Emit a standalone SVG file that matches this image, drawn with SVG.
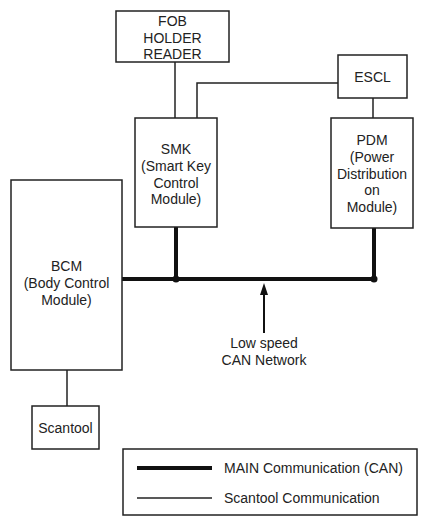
<svg xmlns="http://www.w3.org/2000/svg" width="427" height="526" viewBox="0 0 427 526">
<style>
.box{fill:#fff;stroke:#222;stroke-width:1.5}
.thin{fill:none;stroke:#222;stroke-width:1.5}
.thick{fill:none;stroke:#111;stroke-width:4}
text{font-family:"Liberation Sans",Arial,sans-serif;font-size:14px;fill:#222;text-anchor:middle}
.lg{text-anchor:start}
</style>
<defs>
<marker id="ah" markerWidth="8" markerHeight="12" refX="4" refY="1" orient="auto-start-reverse" markerUnits="userSpaceOnUse" viewBox="0 0 8 12">
<path d="M0,12 L4,0 L8,12 Z" fill="#111"/>
</marker>
</defs>
<g id="connectors">
<path class="thin" d="M175,62 V118"/>
<path class="thin" d="M197,118 V83 H338"/>
<path class="thin" d="M373,98 V118"/>
<path class="thin" d="M67,370 V406"/>
<path class="thick" d="M122,279 H375"/>
<path class="thick" d="M176,227 V279"/>
<path class="thick" d="M374,228 V279"/>
<circle cx="176" cy="279" r="3.5" fill="#111"/>
<circle cx="374" cy="279" r="3.5" fill="#111"/>
<path d="M264,333 V294" stroke="#111" stroke-width="2" fill="none"/>
<path d="M260,295 L264,283 L268,295 Z" fill="#111"/>
</g>
<g id="fob">
<rect class="box" x="116" y="11" width="113" height="51"/>
<text x="172.5" y="25.5">FOB</text>
<text x="172.5" y="42.5">HOLDER</text>
<text x="172.5" y="59">READER</text>
</g>
<g id="escl">
<rect class="box" x="338" y="55" width="69" height="43"/>
<text x="372.5" y="82">ESCL</text>
</g>
<g id="smk">
<rect class="box" x="135" y="118" width="82" height="109"/>
<text x="176" y="154">SMK</text>
<text x="176" y="171">(Smart Key</text>
<text x="176" y="187.5">Control</text>
<text x="176" y="204">Module)</text>
</g>
<g id="pdm">
<rect class="box" x="331" y="118" width="82" height="110"/>
<text x="372" y="145">PDM</text>
<text x="372" y="162">(Power</text>
<text x="372" y="178.5">Distribution</text>
<text x="372" y="195">on</text>
<text x="372" y="212">Module)</text>
</g>
<g id="bcm">
<rect class="box" x="11" y="180" width="111" height="190"/>
<text x="66.5" y="271">BCM</text>
<text x="66.5" y="288">(Body Control</text>
<text x="66.5" y="304.5">Module)</text>
</g>
<g id="scantool">
<rect class="box" x="32" y="406" width="67" height="43"/>
<text x="65.5" y="433">Scantool</text>
</g>
<g id="can-label">
<text x="264" y="348">Low speed</text>
<text x="264" y="365">CAN Network</text>
</g>
<g id="legend">
<rect class="box" x="123" y="449" width="294" height="66"/>
<path class="thick" d="M137,468 H212"/>
<path class="thin" d="M137,498 H212"/>
<text class="lg" x="224" y="473">MAIN Communication (CAN)</text>
<text class="lg" x="224" y="503">Scantool Communication</text>
</g>
</svg>
